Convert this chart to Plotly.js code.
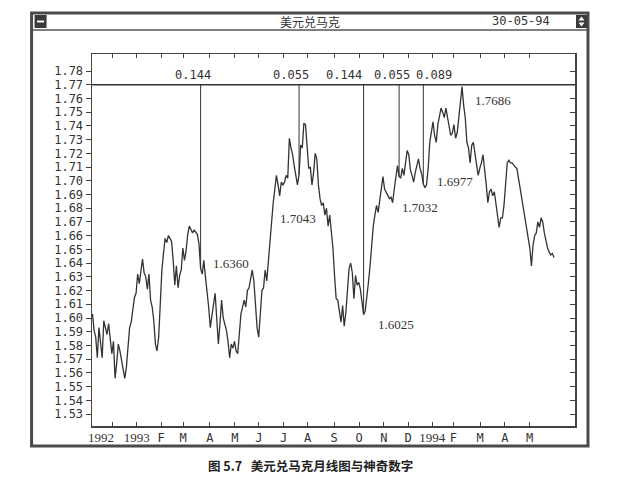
<!DOCTYPE html>
<html><head><meta charset="utf-8">
<script src="https://cdn.plot.ly/plotly-3.0.1.min.js"></script>
<style>html,body{margin:0;padding:0;background:#fff}#chart{width:618px;height:483px}</style>
</head><body><div id="chart"></div>
<script>
// Daily USD/DEM closes, one value per trading session
const prices = [
1.603,1.591,1.586,1.571,1.593,1.581,1.571,1.598,1.592,1.588,
1.596,1.586,1.574,1.583,1.556,1.567,1.581,1.576,1.569,1.564,
1.556,1.564,1.581,1.593,1.597,1.605,1.615,1.618,1.632,1.625,
1.636,1.643,1.633,1.630,1.621,1.632,1.613,1.608,1.598,1.581,
1.576,1.586,1.610,1.635,1.647,1.658,1.655,1.660,1.658,1.656,
1.642,1.624,1.638,1.622,1.631,
1.635,1.651,1.642,1.649,1.661,1.667,1.664,1.662,1.664,1.662,
1.661,1.654,1.636,1.632,1.642,1.630,1.620,1.608,1.593,1.600,
1.610,1.618,1.600,1.581,1.596,1.613,1.600,1.596,1.591,1.583,
1.571,1.581,1.578,1.583,1.576,1.574,1.586,1.603,1.608,1.613,
1.608,1.620,1.622,1.630,1.635,1.627,1.608,1.593,1.586,1.600,
1.620,1.622,1.635,1.627,1.640,
1.651,1.670,1.684,1.694,1.704,1.697,1.689,1.699,1.697,1.699,
1.704,1.702,1.731,1.724,1.719,1.711,1.704,1.697,1.7043,1.726,
1.724,1.742,1.741,1.726,1.709,1.710,1.697,1.706,1.720,1.716,
1.697,1.687,1.682,1.684,1.675,1.680,1.667,1.675,1.665,1.651,
1.631,1.614,1.613,1.604,1.597,1.609,1.594,1.604,1.624,1.636,
1.640,1.633,1.614,1.631,1.624,1.626,
1.621,1.612,1.6025,1.605,1.614,1.626,1.638,1.653,1.667,1.675,
1.682,1.677,1.687,1.697,1.703,1.694,1.692,1.689,1.687,1.688,
1.684,1.694,1.704,1.711,1.7032,1.702,1.709,1.704,1.713,1.722,
1.719,1.708,1.704,1.699,1.706,1.711,1.716,1.709,1.705,1.6977,
1.695,1.697,1.709,1.728,1.735,1.743,1.733,1.728,1.741,1.748,
1.753,1.750,1.746,1.753,1.746,1.738,1.733,
1.735,1.741,1.731,1.735,1.746,1.760,1.7686,1.755,1.746,1.728,
1.724,1.713,1.726,1.728,1.721,1.713,1.704,1.709,1.713,1.719,
1.709,1.697,1.684,1.692,1.694,1.689,1.692,1.684,1.675,1.666,
1.673,1.673,1.682,1.702,1.713,1.715,1.713,1.713,1.711,1.710,
1.709,1.702,1.692,1.687,1.680,1.673,1.665,1.658,1.651,1.638,
1.653,1.660,1.662,1.670,1.666,1.673,1.670,1.662,1.655,1.651,
1.648,1.646,1.647,1.644
];
const sessions = prices.map((_, i) => i);

// Month ticks (session index) and their labels
const tickPos    = [12.3, 27.5, 42.5, 56.2, 72.7, 88.2, 103.1, 118.5, 133.3, 149.8, 165.2, 180.6, 195.6, 210.5, 223.6, 240.2, 255.5, 270.9];
const tickLabels = ['', '1993', 'F', 'M', 'A', 'M', 'J', 'J', 'A', 'S', 'O', 'N', 'D', '1994', 'F', 'M', 'A', 'M'];
const yearLabel = '1992';
const yearLabelPos = 5.5;

// Price axis labels
const priceTicks = [1.53,1.54,1.55,1.56,1.57,1.58,1.59,1.60,1.61,1.62,1.63,1.64,1.65,1.66,1.67,1.68,1.69,1.70,1.71,1.72,1.73,1.74,1.75,1.76,1.77,1.78];

// Resistance line and Fibonacci time lines
const resistance = 1.77;
const timeLineIdx = [67, 128, 168, 190, 205];
const fibLabels = ['0.144', '0.055', '0.144', '0.055', '0.089'];
const fibLabelPos = [62.5, 123.2, 156.0, 185.7, 211.7];

// Price labels at turning points
const pivotLabels = ['1.6360', '1.7043', '1.6025', '1.7032', '1.6977', '1.7686'];
const pivotLabelX = [86.0, 127.5, 188.2, 202.7, 224.7, 247.9];
const pivotLabelY = [1.640, 1.6725, 1.595, 1.6808, 1.6996, 1.7588];

const windowTitle = '美元兑马克';
const windowDate = '30-05-94';
const caption = '图 5.7   美元兑马克月线图与神奇数字';

// ---- layout helpers (pixel -> paper) ----
const L = 91.5, R = 575, T = 54, B = 426;
const px = x => (x - L) / (R - L);
const py = y => (B - y) / (B - T);

const MONO = 'DejaVu Sans Mono, monospace';
const SERIF = 'Liberation Serif, DejaVu Serif, serif';
const INK = '#333333';

const tickText = tickLabels.map(t => /^\d{4}$/.test(t) ? '<span style="font-family:Liberation Serif;font-size:13px">' + t + '</span>' : t);

const shapes = [
  // outer window frame
  {type:'rect', xref:'paper', yref:'paper', x0:px(31), x1:px(588), y0:py(446), y1:py(13), line:{color:'#4a4a4a', width:3}},
  // title bar separator
  {type:'line', xref:'paper', yref:'paper', x0:px(31), x1:px(588), y0:py(30), y1:py(30), line:{color:'#555', width:1.5}},
  // left window button
  {type:'rect', xref:'paper', yref:'paper', x0:px(34), x1:px(46), y0:py(28), y1:py(15), fillcolor:'#3a3a3a', line:{width:0}},
  {type:'line', xref:'paper', yref:'paper', x0:px(36.5), x1:px(43.5), y0:py(21.5), y1:py(21.5), line:{color:'#fff', width:2}},
  // right window button
  {type:'rect', xref:'paper', yref:'paper', x0:px(576), x1:px(587), y0:py(28), y1:py(15), fillcolor:'#3a3a3a', line:{width:0}},
  {type:'path', xref:'paper', yref:'paper', fillcolor:'#fff', line:{width:0},
   path:'M'+px(581.5)+','+py(16.5)+' L'+px(578.5)+','+py(20.5)+' L'+px(584.5)+','+py(20.5)+' Z M'+px(581.5)+','+py(26.5)+' L'+px(578.5)+','+py(22.5)+' L'+px(584.5)+','+py(22.5)+' Z'},
  // resistance line
  {type:'line', xref:'paper', yref:'y', x0:0, x1:1, y0:resistance, y1:resistance, line:{color:INK, width:1.5}}
];
timeLineIdx.forEach(i => shapes.push({type:'line', xref:'x', yref:'y', x0:sessions[i], x1:sessions[i], y0:prices[i], y1:resistance, line:{color:INK, width:1}}));

const C = {xanchor:'center', yanchor:'middle', showarrow:false};
const annotations = [
  Object.assign({xref:'paper', yref:'paper', x:px(310), y:py(21), text:windowTitle, font:{family:'Noto Sans CJK SC', size:12, color:'#333'}}, C),
  Object.assign({xref:'paper', yref:'paper', x:px(521), y:py(21), text:windowDate, font:{family:MONO, size:12, color:'#333'}}, C),
  Object.assign({xref:'paper', yref:'paper', x:px(310), y:py(466), text:'<b>' + caption + '</b>', font:{family:'Noto Sans CJK SC', size:12.5, color:'#222'}}, C),
  Object.assign({xref:'x', yref:'paper', x:yearLabelPos, y:py(437.5), text:yearLabel, font:{family:SERIF, size:13, color:'#333'}}, C)
];
fibLabels.forEach((t, k) => annotations.push({xref:'x', yref:'y', x:fibLabelPos[k], y:resistance, xanchor:'center', yanchor:'bottom', yshift:1, text:t, showarrow:false, font:{family:MONO, size:12, color:'#333'}}));
pivotLabels.forEach((t, k) => annotations.push(Object.assign({xref:'x', yref:'y', x:pivotLabelX[k], y:pivotLabelY[k], text:t, font:{family:SERIF, size:13, color:'#333'}}, C)));

const traces = [
  {type:'scatter', mode:'lines', x:sessions, y:prices, line:{color:INK, width:1.3}, hoverinfo:'skip', showlegend:false},
  {type:'scatter', mode:'lines', x:sessions, y:prices, yaxis:'y2', opacity:0, hoverinfo:'skip', showlegend:false}
];

const yr = [1.5213, 1.7924];
const layout = {
  width:618, height:483,
  margin:{l:L, r:618 - R, t:T, b:483 - B, pad:0},
  paper_bgcolor:'#fff', plot_bgcolor:'#fff',
  showlegend:false,
  xaxis:{range:[-0.3, 299], tickmode:'array', tickvals:tickPos, ticktext:tickText,
         ticks:'inside', ticklen:4, tickcolor:'#444', tickwidth:1,
         showline:true, mirror:'ticks', linecolor:'#444', linewidth:1.5,
         showgrid:false, zeroline:false, fixedrange:true,
         tickfont:{family:MONO, size:12, color:'#333'}},
  yaxis:{range:yr, tickmode:'array', tickvals:priceTicks, tickformat:'.2f',
         ticks:'outside', ticklen:5, tickcolor:'#444', tickwidth:1,
         showline:true, mirror:true, linecolor:'#444', linewidth:1.5,
         showgrid:false, zeroline:false, fixedrange:true,
         tickfont:{family:MONO, size:12, color:'#333'}},
  yaxis2:{range:yr, tickmode:'array', tickvals:priceTicks, overlaying:'y', side:'right',
          ticks:'inside', ticklen:5, tickcolor:'#444', tickwidth:1,
          showticklabels:false, showline:false, showgrid:false, zeroline:false, fixedrange:true},
  shapes:shapes,
  annotations:annotations
};

Plotly.newPlot('chart', traces, layout, {staticPlot:true, displayModeBar:false});
</script>
</body></html>
